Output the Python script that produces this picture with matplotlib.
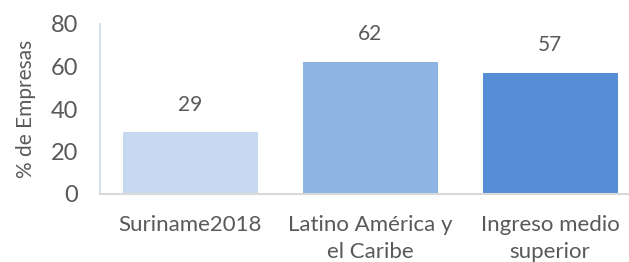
import matplotlib.pyplot as plt

categorias = ['Suriname2018', 'Latino América y\nel Caribe', 'Ingreso medio\nsuperior']
valores = [29, 62, 57]
colores = ['#c6d9f1', '#8eb4e3', '#558ed5']
yticks = [0, 20, 40, 60, 80]

plt.rcParams['font.family'] = ['Lato', 'DejaVu Sans']
gris = '#595959'

fig = plt.figure(figsize=(6.29, 2.62), dpi=100)
ax = fig.add_axes([100/629, 68/262, 540/629, 170/262])

x = list(range(len(valores)))
ax.bar(x, valores, width=0.75, color=colores)
for xi, v in zip(x, valores):
    ax.annotate(str(v), (xi, v), xytext=(0, 20), textcoords='offset points',
                ha='center', va='center', fontsize=15, color=gris)

ax.set_xlim(-0.5, 2.5)
ax.set_ylim(0, 80)
ax.set_yticks(yticks)
ax.set_xticks(x)
ax.set_xticklabels(categorias, fontsize=16, color=gris, linespacing=1.45)
for lbl in ax.get_xticklabels():
    lbl.set_multialignment('center')
ax.tick_params(axis='y', labelsize=17, colors=gris, length=0, pad=16)
ax.tick_params(axis='x', length=0, pad=15)

for s in ['top', 'right']:
    ax.spines[s].set_visible(False)
ax.spines['left'].set_color('#d5e0f0')
ax.spines['left'].set_linewidth(1.5)
ax.spines['bottom'].set_color('#d9d9d9')
ax.spines['bottom'].set_linewidth(1.5)

ax.set_ylabel('% de Empresas', fontsize=15, color=gris, labelpad=10)

fig.savefig('out.png', dpi=100)
